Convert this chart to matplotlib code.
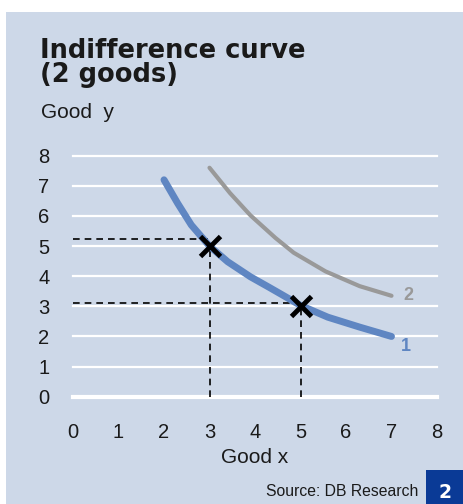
import matplotlib.pyplot as plt
from matplotlib.patches import Rectangle

# curve 1 (blue) and curve 2 (grey)
x1 = [2.0, 2.3, 2.6, 3.0, 3.4, 3.9, 4.3, 4.6, 5.0, 5.6, 6.3, 7.0]
y1 = [7.2, 6.42, 5.7, 5.0, 4.48, 3.98, 3.64, 3.38, 3.03, 2.64, 2.31, 2.0]
x2 = [3.0, 3.45, 3.9, 4.45, 4.85, 5.55, 6.3, 7.0]
y2 = [7.6, 6.76, 6.02, 5.27, 4.78, 4.16, 3.67, 3.35]
pts_x = [3, 5]
pts_y = [5, 3]
guide_y = [5.25, 3.1]
ticks = list(range(0, 9))

bg = '#cdd8e8'
blue = '#5f86c2'
grey = '#999999'
ink = '#1a1a1a'

plt.rcParams['font.family'] = ['Liberation Sans', 'DejaVu Sans']

fig = plt.figure(figsize=(4.63, 5.04), dpi=100)
fig.patches.append(Rectangle((6 / 463, 0), 1, 1 - 12 / 504, transform=fig.transFigure,
                             facecolor=bg, edgecolor='none', zorder=-10))
fig.patches.append(Rectangle((426 / 463, 0), 1, 34 / 504, transform=fig.transFigure,
                             facecolor='#0a3a96', edgecolor='none', zorder=-5))

ax = fig.add_axes([73 / 463, 107.3 / 504, 364 / 463, 241 / 504])
ax.set_zorder(1)
ax.patch.set_visible(False)
for s in ax.spines.values():
    s.set_visible(False)
ax.set_xlim(0, 8)
ax.set_ylim(0, 8)
ax.set_xticks(ticks)
ax.set_yticks(ticks)
ax.tick_params(length=0, labelsize=14.5, colors=ink)
ax.tick_params(axis='x', pad=19)
ax.tick_params(axis='y', pad=17)
for t in ticks:
    ax.axhline(t, color='white', lw=3 if t == 0 else 1.6, zorder=1, clip_on=False)

# dashed guides
for px, py, gy in zip(pts_x, pts_y, guide_y):
    ax.plot([0, px], [gy, gy], color='black', lw=1.2, ls=(0, (4, 3)), zorder=2, clip_on=False)
    ax.plot([px, px], [0, py], color='black', lw=1.2, ls=(0, (4, 3)), zorder=2, clip_on=False)

ax.plot(x2, y2, color=grey, lw=3, solid_capstyle='round', solid_joinstyle='round', zorder=3)
ax.plot(x1, y1, color=blue, lw=5, solid_capstyle='round', solid_joinstyle='round', zorder=3)
ax.plot(pts_x, pts_y, 'x', color='black', ms=14, mew=3.5, zorder=4)

ax.text(7.27, 3.35, '2', color=grey, fontsize=13, fontweight='bold', va='center')
ax.text(7.2, 1.68, '1', color=blue, fontsize=13, fontweight='bold', va='center')

ax.set_xlabel('Good x', fontsize=15, labelpad=4, color=ink)

fig.text(40 / 463, 1 - 38 / 504, 'Indifference curve\n(2 goods)', fontsize=18.5,
         fontweight='bold', family='DejaVu Sans', va='top', ha='left', linespacing=0.9,
         color=ink)
fig.text(41 / 463, 1 - 112 / 504, 'Good  y', fontsize=15, va='center', ha='left', color=ink)
fig.text(418 / 463, 1 - 491 / 504, 'Source: DB Research', fontsize=11.3, va='center',
         ha='right', color=ink)
fig.text(445.5 / 463, 1 - 492 / 504, '2', fontsize=13.5, fontweight='bold', family='DejaVu Sans',
         color='white', va='center', ha='center')

fig.savefig('out.png', dpi=100)
